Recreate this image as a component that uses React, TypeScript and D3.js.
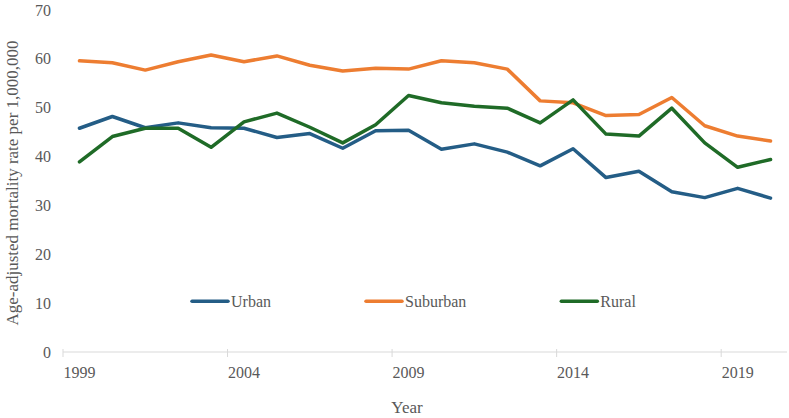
import { line, scaleBand, scaleLinear } from "d3";

const WIDTH = 789;
const HEIGHT = 418;
const MARGIN = { top: 10, right: 2, bottom: 66, left: 63 };

const years = [
  1999, 2000, 2001, 2002, 2003, 2004, 2005, 2006, 2007, 2008, 2009,
  2010, 2011, 2012, 2013, 2014, 2015, 2016, 2017, 2018, 2019, 2020,
];

const urban = [
  45.8, 48.2, 45.9, 46.9, 45.9, 45.8, 43.9, 44.7, 41.7, 45.3, 45.4,
  41.5, 42.6, 40.9, 38.1, 41.6, 35.7, 37.0, 32.8, 31.6, 33.5, 31.5,
];

const suburban = [
  59.6, 59.2, 57.7, 59.4, 60.8, 59.4, 60.6, 58.7, 57.5, 58.1, 57.9,
  59.6, 59.2, 57.9, 51.4, 51.0, 48.4, 48.6, 52.1, 46.3, 44.2, 43.2,
];

const rural = [
  38.9, 44.1, 45.8, 45.8, 41.9, 47.1, 48.9, 46.0, 42.8, 46.5, 52.5,
  51.0, 50.3, 49.9, 46.9, 51.6, 44.6, 44.2, 49.9, 42.8, 37.8, 39.4,
];

const yTicks = [0, 10, 20, 30, 40, 50, 60, 70];
const labelYears = [1999, 2004, 2009, 2014, 2019];

const series = [
  { name: "Urban", values: urban, color: "#245d86" },
  { name: "Suburban", values: suburban, color: "#ed7d31" },
  { name: "Rural", values: rural, color: "#1f6b27" },
];

const FONT = "'Liberation Serif', 'Times New Roman', serif";
const TEXT = "#595959";

function textWidth(text: string, size: number) {
  const ctx = document.createElement("canvas").getContext("2d");
  if (!ctx) return text.length * size * 0.45;
  ctx.font = `${size}px 'Liberation Serif'`;
  return ctx.measureText(text).width;
}

export default function App() {
  const x = scaleBand<number>()
    .domain(years)
    .range([MARGIN.left, WIDTH - MARGIN.right]);

  const y = scaleLinear()
    .domain([0, 70])
    .range([HEIGHT - MARGIN.bottom, MARGIN.top]);

  const cx = (yr: number) => (x(yr) ?? 0) + x.bandwidth() / 2;

  const makePath = (values: number[]) =>
    line<number>()
      .x((_, i) => cx(years[i]))
      .y((v) => y(v))(values) ?? "";

  const baseY = y(0);

  // legend layout
  const legendY = y(10.4);
  let cursor = 192;
  const legendItems = series.map((s) => {
    const item = { ...s, x: cursor };
    cursor += 36 + 3 + textWidth(s.name, 16) + 95;
    return item;
  });

  // ticks at category boundaries every 5 years
  const boundaryTicks = labelYears.map((yr) => x(yr) ?? 0);

  return (
    <svg
      width={WIDTH}
      height={HEIGHT}
      viewBox={`0 0 ${WIDTH} ${HEIGHT}`}
      style={{ position: "absolute", left: 0, top: 0, background: "#fff" }}
      fontFamily={FONT}
    >
      {yTicks.map((t) => (
        <text
          key={t}
          x={MARGIN.left - 12}
          y={y(t)}
          dy="0.35em"
          textAnchor="end"
          fontSize={16}
          fill={TEXT}
        >
          {t}
        </text>
      ))}

      <line
        x1={MARGIN.left}
        x2={WIDTH - MARGIN.right}
        y1={baseY}
        y2={baseY}
        stroke="#d9d9d9"
        strokeWidth={1}
      />
      {boundaryTicks.map((tx, i) => (
        <line
          key={i}
          x1={tx}
          x2={tx}
          y1={baseY - 3}
          y2={baseY + 5}
          stroke="#d9d9d9"
          strokeWidth={1}
        />
      ))}
      {labelYears.map((yr) => (
        <text
          key={yr}
          x={cx(yr)}
          y={baseY + 26}
          textAnchor="middle"
          fontSize={16}
          fill={TEXT}
        >
          {yr}
        </text>
      ))}

      {series.map((s) => (
        <path
          key={s.name}
          d={makePath(s.values)}
          fill="none"
          stroke={s.color}
          strokeWidth={3.5}
          strokeLinejoin="round"
          strokeLinecap="round"
        />
      ))}

      {legendItems.map((s) => (
        <g key={s.name}>
          <line
            x1={s.x}
            x2={s.x + 36}
            y1={legendY}
            y2={legendY}
            stroke={s.color}
            strokeWidth={3.5}
            strokeLinecap="round"
          />
          <text
            x={s.x + 39}
            y={legendY}
            dy="0.35em"
            fontSize={16}
            fill={TEXT}
          >
            {s.name}
          </text>
        </g>
      ))}

      <text
        x={407}
        y={413}
        textAnchor="middle"
        fontSize={17}
        fill={TEXT}
      >
        Year
      </text>
      <text
        transform={`translate(18, 183) rotate(-90)`}
        textAnchor="middle"
        fontSize={17}
        fill={TEXT}
      >
        Age-adjusted mortality rate per 1,000,000
      </text>
    </svg>
  );
}
